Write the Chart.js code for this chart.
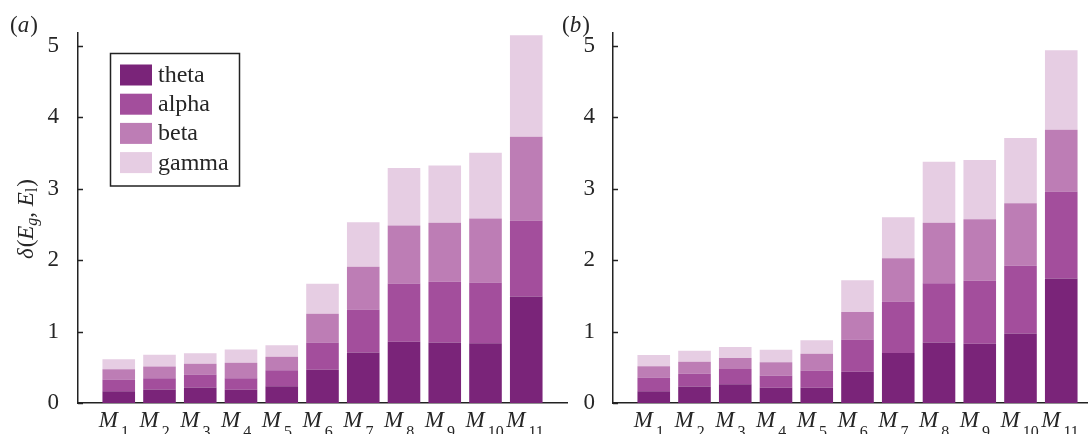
<!DOCTYPE html>
<html>
<head>
<meta charset="utf-8">
<script src="https://cdn.jsdelivr.net/npm/chart.js@4/dist/chart.umd.min.js"></script>
<style>
html,body{margin:0;padding:0;background:#fff;overflow:hidden;width:1088px;height:434px;}
#wa{position:absolute;left:0;top:0;width:575px;height:434px;}
#wb{position:absolute;left:550px;top:0;width:555px;height:434px;}
</style>
</head>
<body>
<div id="wa"><canvas id="ca"></canvas></div>
<div id="wb"><canvas id="cb"></canvas></div>
<script>
// ---- data ----
const categories = ['M1','M2','M3','M4','M5','M6','M7','M8','M9','M10','M11'];
const seriesNames = ['theta','alpha','beta','gamma'];
const yTickValues = [0,1,2,3,4,5];
const panelLabels = ['a','b'];

const thetaA = [0.165,0.189,0.217,0.185,0.235,0.465,0.707,0.857,0.847,0.838,1.492];
const alphaA = [0.164,0.158,0.182,0.162,0.224,0.382,0.603,0.817,0.850,0.850,1.064];
const betaA  = [0.144,0.164,0.150,0.216,0.188,0.402,0.598,0.812,0.827,0.896,1.172];
const gammaA = [0.140,0.164,0.148,0.186,0.163,0.420,0.624,0.803,0.802,0.920,1.419];

const thetaB = [0.166,0.232,0.264,0.213,0.213,0.438,0.699,0.846,0.831,0.972,1.744];
const alphaB = [0.192,0.178,0.211,0.169,0.243,0.450,0.722,0.832,0.880,0.949,1.217];
const betaB  = [0.155,0.169,0.154,0.187,0.235,0.387,0.604,0.847,0.862,0.877,0.866];
const gammaB = [0.158,0.154,0.155,0.178,0.187,0.445,0.576,0.853,0.828,0.913,1.110];

// ---- style ----
const seriesColors = ['#7a2479','#a34e9c','#bd7db5','#e6cde3'];
const axisColor = '#222';
const textColor = '#262626';
const FONT = '"Liberation Serif", "Times New Roman", serif';

function fontStr(style, size){ return style + ' ' + size + 'px ' + FONT; }

function drawRich(ctx, segs, x, y, align){
  let total = 0;
  const ws = segs.map(s => { ctx.font = fontStr(s.style||'normal', s.size); const w = ctx.measureText(s.t).width + (s.gap||0); total += w; return w; });
  let cur = align === 'center' ? x - total/2 : x;
  ctx.textAlign = 'left';
  ctx.textBaseline = 'alphabetic';
  segs.forEach((s,i) => {
    ctx.font = fontStr(s.style||'normal', s.size);
    ctx.fillText(s.t, cur, y + (s.dy||0));
    cur += ws[i];
  });
}

const decorPlugin = {
  id: 'decor',
  afterDraw(chart, args, o){
    const ctx = chart.ctx;
    const xs = chart.scales.x, ys = chart.scales.y;
    const area = chart.chartArea;
    ctx.save();
    // inward y ticks
    ctx.strokeStyle = axisColor;
    ctx.lineWidth = 1.5;
    yTickValues.forEach(v => {
      const py = Math.round(ys.getPixelForValue(v)) + 0.5;
      ctx.beginPath();
      ctx.moveTo(area.left, py);
      ctx.lineTo(area.left + 5, py);
      ctx.stroke();
    });
    // x labels with subscripts
    ctx.fillStyle = textColor;
    categories.forEach((c, i) => {
      const px = xs.getPixelForValue(i + 1);
      const sub = c.slice(1);
      drawRich(ctx, [
        {t: c[0], style: 'italic', size: 23, gap: 3},
        {t: sub, style: 'normal', size: 16, dy: 10}
      ], px - 20, 427, 'left');
    });
    // panel label
    drawRich(ctx, [
      {t:'(', size:23},
      {t:o.panel, style:'italic', size:23, gap:1},
      {t:')', size:23}
    ], o.panelX, 32, 'left');
    // y axis title
    if (o.yTitle){
      ctx.save();
      ctx.translate(26, 219);
      ctx.rotate(-Math.PI/2);
      drawRich(ctx, [
        {t:'\u03b4', style:'italic', size:23, gap:1},
        {t:'(', size:23},
        {t:'E', style:'italic', size:23},
        {t:'g', style:'italic', size:16, dy:4},
        {t:', ', size:23},
        {t:'E', style:'italic', size:23},
        {t:'l', style:'normal', size:16, dy:4, gap:1},
        {t:')', size:23}
      ], 0, 7, 'center');
      ctx.restore();
    }
    // legend
    if (o.legend){
      ctx.strokeStyle = axisColor;
      ctx.lineWidth = 1.5;
      ctx.strokeRect(110.5, 53.5, 129, 132.5);
      chart.data.datasets.forEach((ds, k) => {
        const top = 64.5 + k * 29.2;
        ctx.fillStyle = ds.backgroundColor;
        ctx.fillRect(120, top, 32, 21);
        ctx.fillStyle = textColor;
        ctx.font = fontStr('normal', 24);
        ctx.textAlign = 'left';
        ctx.textBaseline = 'alphabetic';
        ctx.fillText(ds.label, 158, top + 17.5);
      });
    }
    ctx.restore();
  }
};

function makePanel(canvasId, series, cfg){
  return new Chart(document.getElementById(canvasId), {
    type: 'bar',
    data: {
      labels: ['', ...categories, ''],
      datasets: seriesNames.map((n, k) => ({
        label: n,
        data: [null, ...series[k], null],
        backgroundColor: seriesColors[k],
        borderWidth: 0,
        barPercentage: 0.8,
        categoryPercentage: 1
      }))
    },
    options: {
      responsive: true,
      maintainAspectRatio: false,
      animation: false,
      events: [],
      layout: {padding: {top: 33, right: cfg.padRight, left: 0, bottom: 0}},
      plugins: {
        legend: {display: false},
        tooltip: {enabled: false},
        decor: {panel: cfg.panel, panelX: cfg.panelX, yTitle: cfg.yTitle, legend: cfg.legend}
      },
      scales: {
        x: {
          type: 'category', offset: false, stacked: true,
          grid: {display: false, offset: false},
          border: {display: true, color: axisColor, width: 1.5},
          ticks: {display: false},
          afterFit: s => { s.height = 31; }
        },
        y: {
          type: 'linear', stacked: true, min: 0, max: 5.18,
          grid: {display: false},
          border: {display: true, color: axisColor, width: 1.5},
          ticks: {stepSize: 1, includeBounds: false, padding: cfg.tickPad, color: textColor,
                  font: {family: FONT, size: 23}},
          afterBuildTicks: s => { s.ticks = yTickValues.map(v => ({value: v})); },
          afterFit: s => { s.width = cfg.yWidth; }
        }
      }
    },
    plugins: [decorPlugin]
  });
}

makePanel('ca', [thetaA, alphaA, betaA, gammaA],
  {panel: panelLabels[0], panelX: 10, yTitle: true, legend: true, yWidth: 78, padRight: 8, tickPad: 11});
makePanel('cb', [thetaB, alphaB, betaB, gammaB],
  {panel: panelLabels[1], panelX: 12, yTitle: false, legend: false, yWidth: 63, padRight: 3, tickPad: 10});
</script>
</body>
</html>
